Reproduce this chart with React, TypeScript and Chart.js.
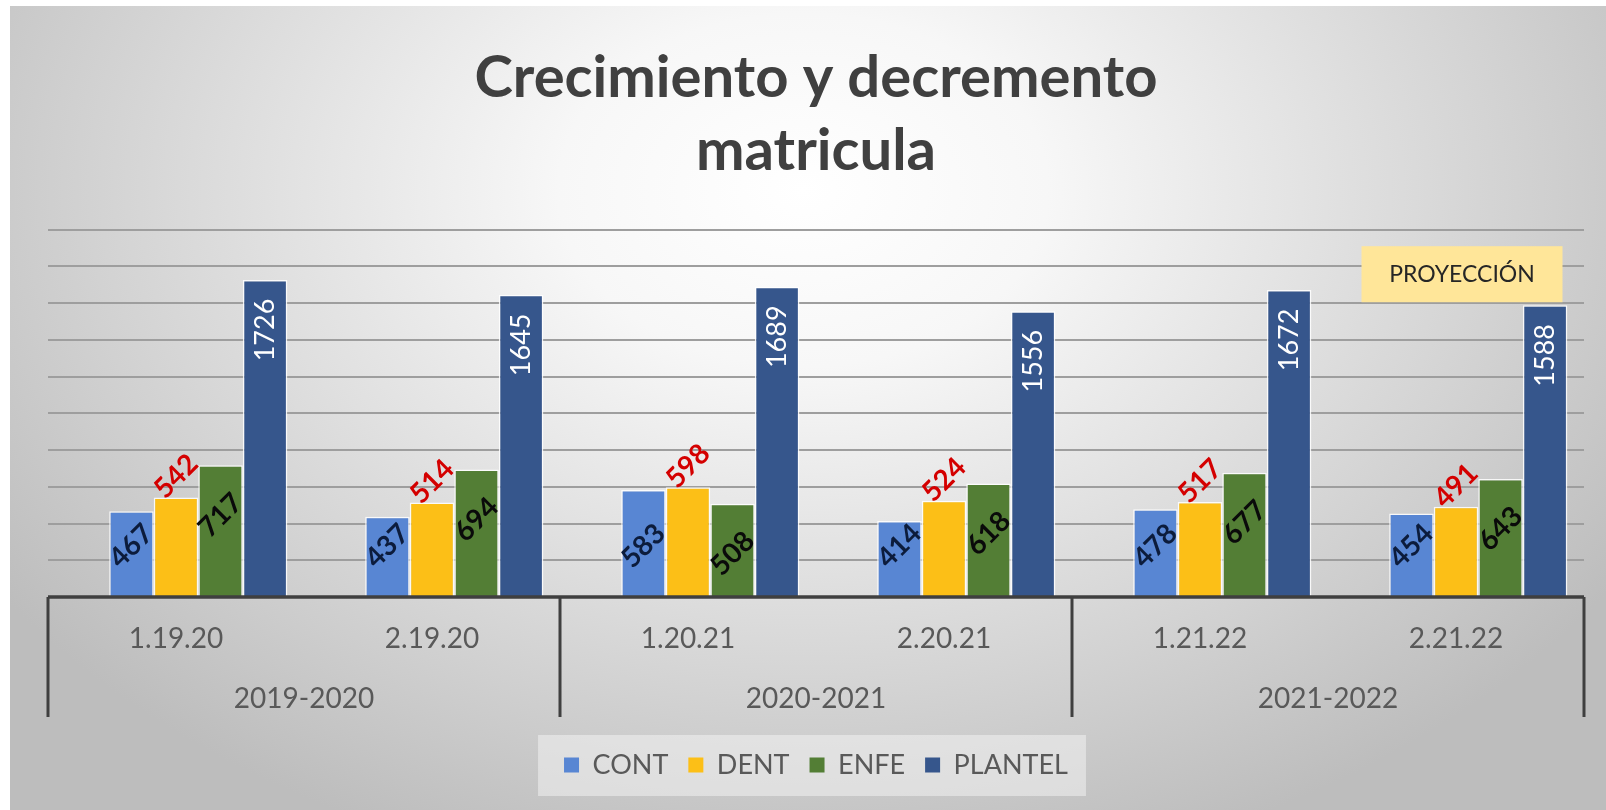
import React, { useEffect, useRef } from 'react';
import { Chart, registerables } from 'chart.js';

Chart.register(...registerables);

// ---------- data ----------
const categories = ['1.19.20', '2.19.20', '1.20.21', '2.20.21', '1.21.22', '2.21.22'];
const seasons = ['2019-2020', '2020-2021', '2021-2022'];
const seriesNames = ['CONT', 'DENT', 'ENFE', 'PLANTEL'];
const contValues = [467, 437, 583, 414, 478, 454];
const dentValues = [542, 514, 598, 524, 517, 491];
const enfeValues = [717, 694, 508, 618, 677, 643];
const plantelValues = [1726, 1645, 1689, 1556, 1672, 1588];
const yMax = 2000;
const yStep = 200;
const titleLines = ['Crecimiento y decremento', 'matricula'];
const projectionText = 'PROYECCIÓN';
const projectionCategory = 5;
const projectionRange = [1605, 1910];

// ---------- styles ----------
const FONT = 'Lato, "Open Sans", "DejaVu Sans", sans-serif';
const seriesColors = ['#5886d3', '#fcbf17', '#537e35', '#36568c'];
const labelStyles = [
  { color: '#0c1c3c', weight: 'bold', rotation: -45, from: 'base', offset: -50, size: 28 },
  { color: '#d40000', weight: 'bold', rotation: -45, from: 'top', offset: -21, size: 28 },
  { color: '#0a0a0a', weight: 'bold', rotation: -45, from: 'top', offset: 50, size: 28 },
  { color: '#ffffff', weight: 'normal', rotation: -90, from: 'top', offset: 50, size: 27 },
];
const seriesValues = [contValues, dentValues, enfeValues, plantelValues];

const backgroundPlugin = {
  id: 'bgGradient',
  beforeDraw(chart: any) {
    const { ctx, width, height } = chart;
    ctx.save();
    ctx.fillStyle = '#ffffff';
    ctx.fillRect(0, 0, width, height);
    const cx = 803, cy = 190, sy = 0.72, r = 980;
    ctx.translate(cx, cy);
    ctx.scale(1, sy);
    const g = ctx.createRadialGradient(0, 0, 0, 0, 0, r);
    g.addColorStop(0, '#ffffff');
    g.addColorStop(0.25, '#f7f7f7');
    g.addColorStop(1, '#bdbdbd');
    ctx.fillStyle = g;
    ctx.fillRect(10 - cx, (6 - cy) / sy, width - 10, (height - 6) / sy);
    ctx.restore();

    // legend backdrop
    const lg = chart.legend;
    if (lg && lg.legendHitBoxes && lg.legendHitBoxes.length) {
      const hb = lg.legendHitBoxes;
      const x0 = Math.min(...hb.map((h: any) => h.left)) - 26;
      const x1 = Math.max(...hb.map((h: any) => h.left + h.width)) + 18;
      const cyL = hb[0].top + hb[0].height / 2;
      ctx.save();
      ctx.fillStyle = 'rgba(245,245,245,0.5)';
      ctx.fillRect(x0, cyL - 30, x1 - x0, 61);
      ctx.restore();
    }
  },
};

const axisAndLabelsPlugin = {
  id: 'axisAndLabels',
  afterDatasetsDraw(chart: any) {
    const { ctx, chartArea } = chart;
    const xs = chart.scales.x;
    const ys = chart.scales.y;
    const bottom = chartArea.bottom;
    ctx.save();
    // axis line
    ctx.strokeStyle = '#3f3f3f';
    ctx.lineWidth = 3.5;
    ctx.beginPath();
    ctx.moveTo(xs.left, bottom);
    ctx.lineTo(xs.right, bottom);
    ctx.stroke();
    // season dividers
    ctx.lineWidth = 3;
    const segW = (xs.right - xs.left) / seasons.length;
    for (let i = 0; i <= seasons.length; i++) {
      const x = xs.left + i * segW;
      ctx.beginPath();
      ctx.moveTo(x, bottom);
      ctx.lineTo(x, bottom + 120);
      ctx.stroke();
    }
    // category labels
    ctx.fillStyle = '#595959';
    ctx.font = `28px ${FONT}`;
    ctx.textAlign = 'center';
    ctx.textBaseline = 'middle';
    categories.forEach((c, i) => {
      ctx.fillText(c, xs.getPixelForValue(i), bottom + 42);
    });
    seasons.forEach((s, i) => {
      ctx.fillText(s, xs.left + (i + 0.5) * segW, bottom + 102);
    });

    // data labels
    chart.data.datasets.forEach((ds: any, di: number) => {
      const si = seriesNames.indexOf(ds.label);
      if (si < 0) return;
      const st = labelStyles[si];
      const meta = chart.getDatasetMeta(di);
      meta.data.forEach((el: any, i: number) => {
        const v = ds.data[i];
        if (v == null) return;
        const px = el.x;
        const py = (st.from === 'base' ? el.base : el.y) + st.offset;
        ctx.save();
        ctx.translate(px, py);
        ctx.rotate((st.rotation * Math.PI) / 180);
        ctx.fillStyle = st.color;
        ctx.font = `${st.weight} ${st.size}px ${FONT}`;
        ctx.textAlign = 'center';
        ctx.textBaseline = 'middle';
        ctx.fillText(String(v), 0, 0);
        ctx.restore();
      });
    });

    // projection tag
    const pcx = xs.getPixelForValue(projectionCategory) + 6;
    const pTop = ys.getPixelForValue(projectionRange[1]);
    const pBot = ys.getPixelForValue(projectionRange[0]);
    const pw = 201;
    ctx.fillStyle = '#ffe699';
    ctx.fillRect(pcx - pw / 2, pTop, pw, pBot - pTop);
    ctx.fillStyle = '#262626';
    ctx.font = `23px ${FONT}`;
    ctx.fillText(projectionText, pcx, (pTop + pBot) / 2);
    ctx.restore();
  },
};

export default function App() {
  const ref = useRef<HTMLCanvasElement | null>(null);
  useEffect(() => {
    if (!ref.current) return;
    const datasets: any[] = [
      {
        label: '',
        data: categories.map(() => null),
        backgroundColor: 'transparent',
      },
      ...seriesNames.map((name, i) => ({
        label: name,
        data: seriesValues[i],
        backgroundColor: seriesColors[i],
        borderColor: 'rgba(255,255,255,0.85)',
        borderWidth: 1.5,
      })),
    ];
    const chart = new Chart(ref.current, {
      type: 'bar',
      data: { labels: categories, datasets },
      plugins: [backgroundPlugin, axisAndLabelsPlugin],
      options: {
        responsive: false,
        animation: false,
        devicePixelRatio: 1,
        layout: { padding: { left: 48, right: 22, top: 0, bottom: 21.5 } },
        datasets: { bar: { categoryPercentage: 0.87, barPercentage: 1 } },
        scales: {
          x: {
            display: true,
            grid: { display: false },
            border: { display: false },
            ticks: { display: false },
            afterFit: (s: any) => {
              s.height = 134.5;
            },
          },
          y: {
            min: 0,
            max: yMax,
            ticks: { display: false, stepSize: yStep },
            border: { display: false },
            grid: {
              color: (c: any) => (c.tick && c.tick.value === 0 ? 'transparent' : '#9e9e9e'),
              lineWidth: 2,
              drawTicks: false,
            },
          },
        },
        plugins: {
          title: {
            display: true,
            text: titleLines,
            color: '#404040',
            font: { family: FONT, size: 58, weight: 'bold', lineHeight: 1.26 },
            padding: { top: 41.5, bottom: 42 },
          },
          legend: {
            display: true,
            position: 'bottom',
            labels: {
              color: '#595959',
              font: { family: FONT, size: 27 },
              boxWidth: 15,
              boxHeight: 15,
              padding: 20,
              generateLabels: (ch: any) =>
                Chart.defaults.plugins.legend.labels
                  .generateLabels(ch)
                  .filter((it: any) => it.text !== '')
                  .map((it: any) => ({ ...it, lineWidth: 0, strokeStyle: 'transparent' })),
            },
          },
          tooltip: { enabled: false },
        },
      },
    });
    return () => chart.destroy();
  }, []);
  return (
    <div style={{ position: 'fixed', left: 0, top: 0, width: 1606, height: 810 }}>
      <canvas ref={ref} width={1606} height={810} style={{ display: 'block', width: 1606, height: 810 }} />
    </div>
  );
}
